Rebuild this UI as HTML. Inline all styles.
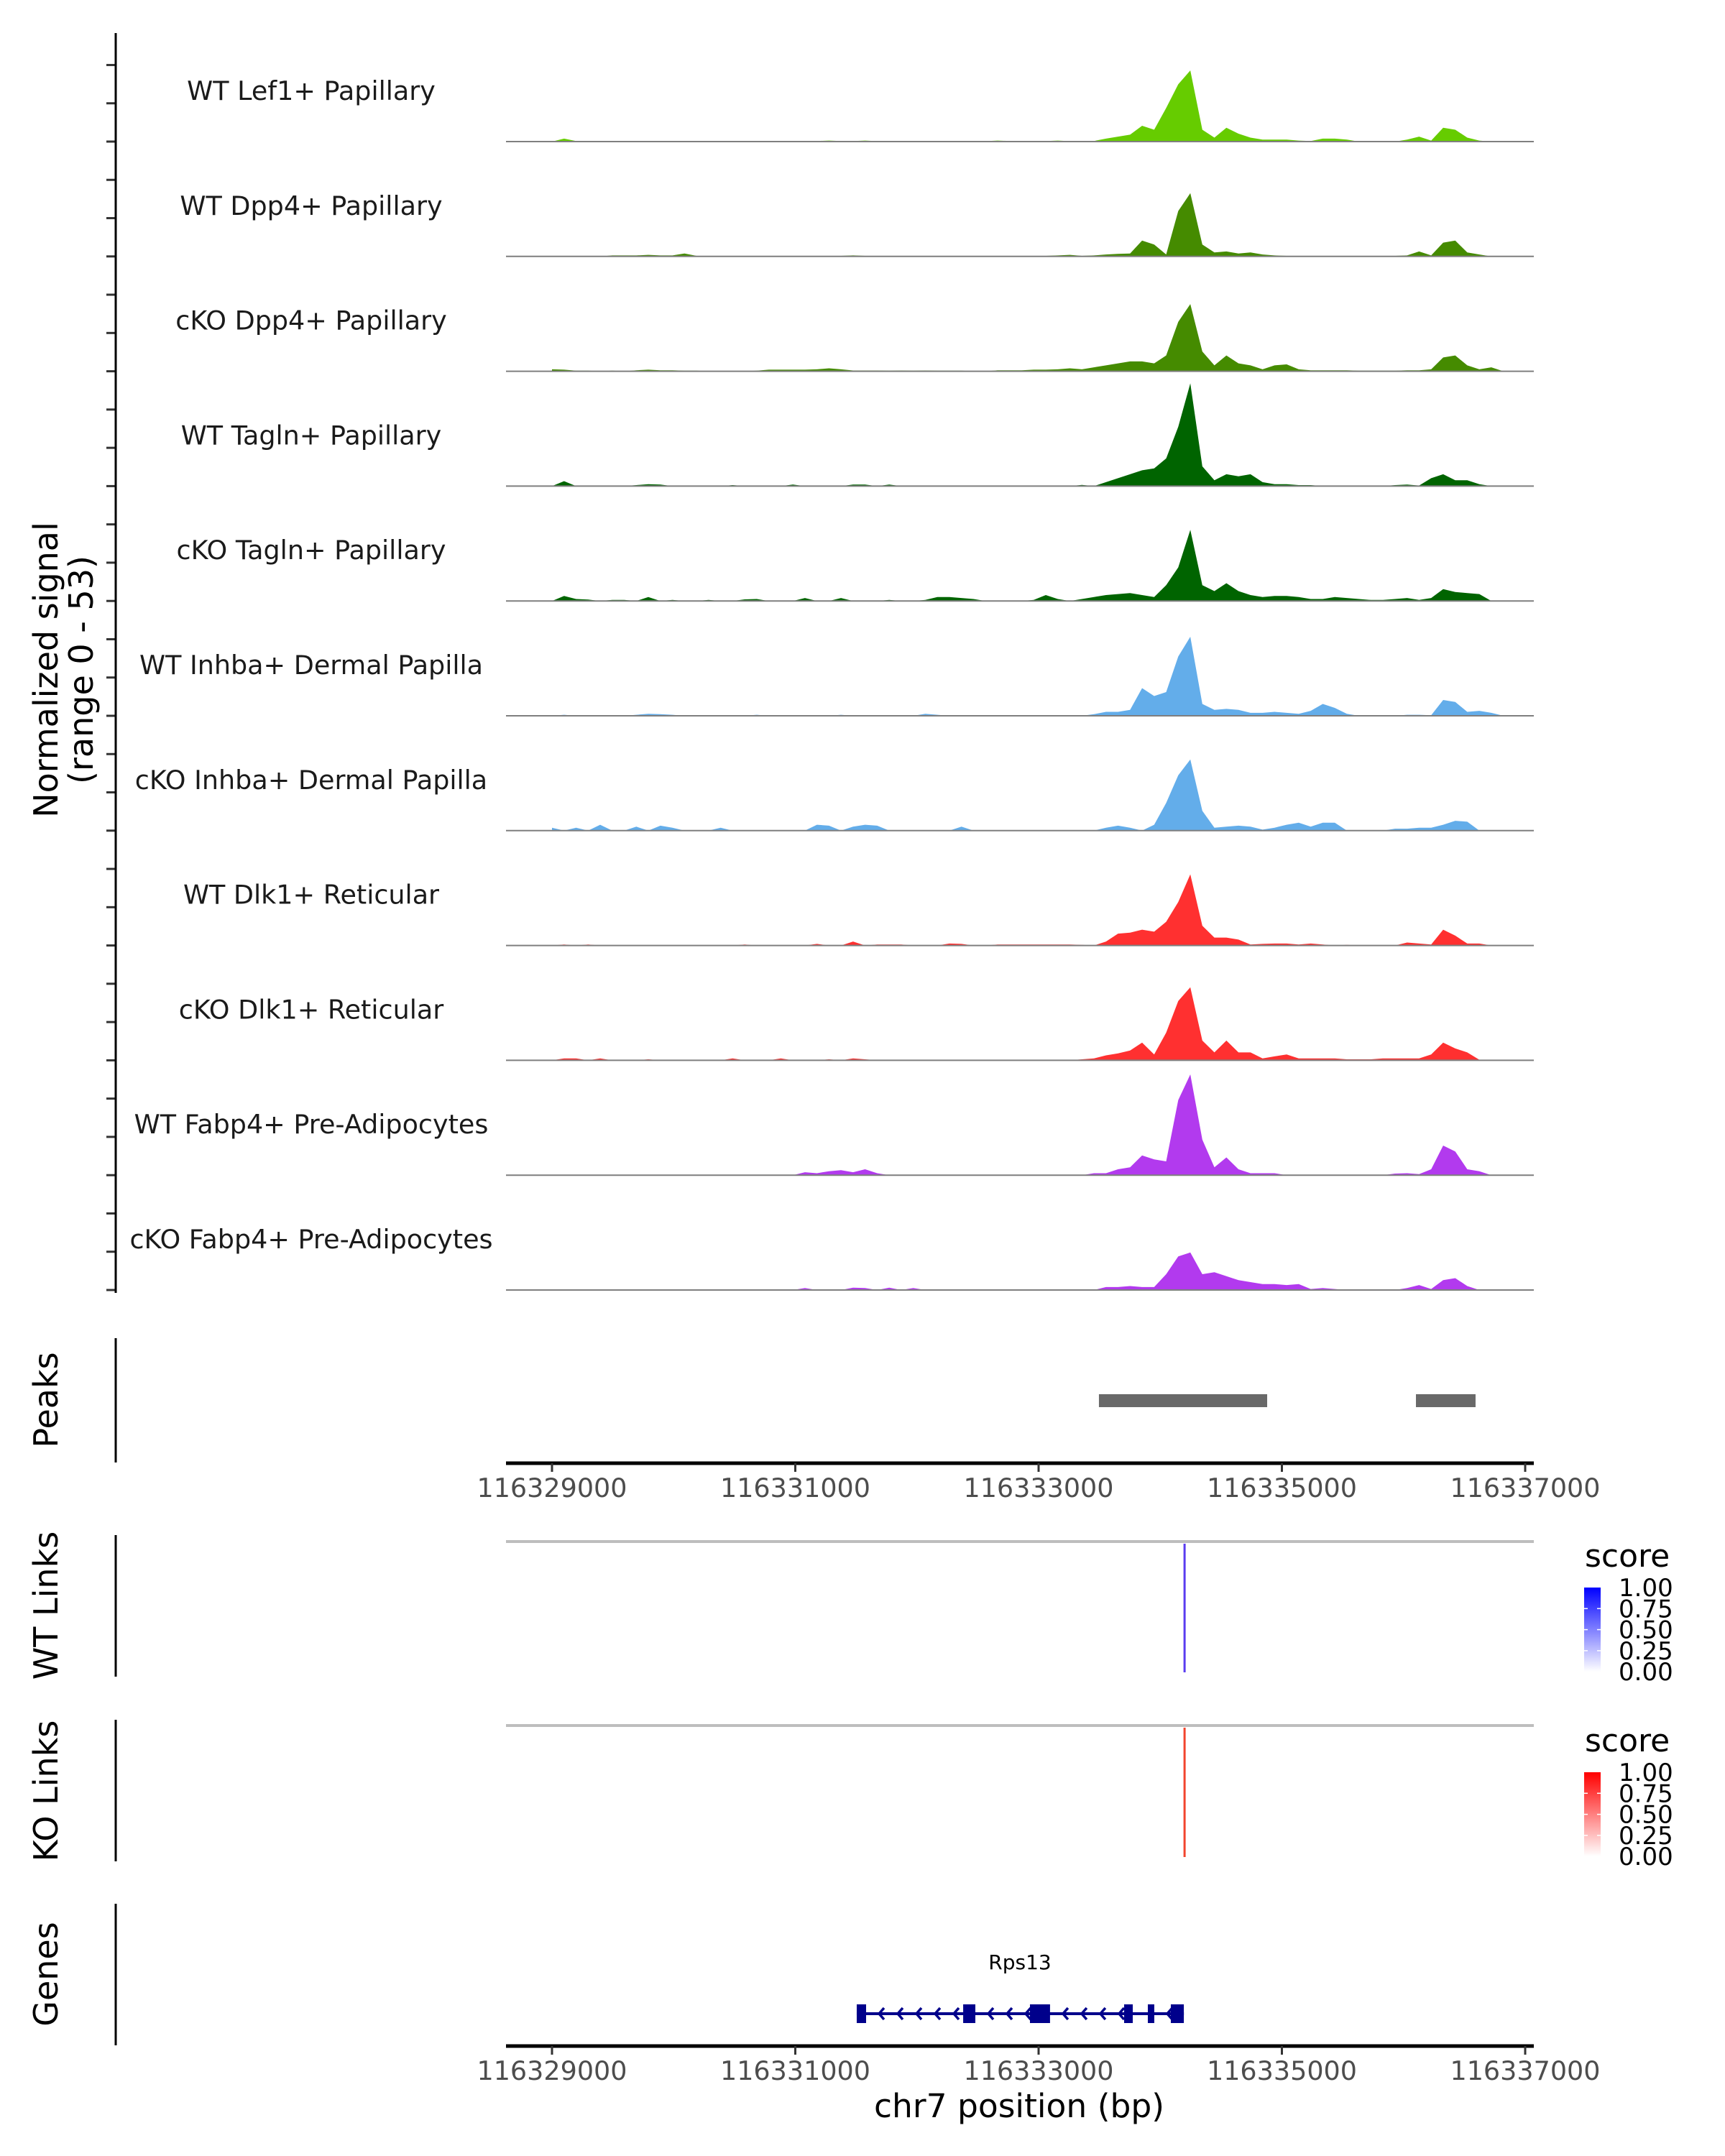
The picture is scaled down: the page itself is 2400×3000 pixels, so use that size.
<!DOCTYPE html>
<html><head><meta charset="utf-8"><style>
html,body{margin:0;padding:0;background:#fff;}
svg{display:block;font-family:"DejaVu Sans","Liberation Sans",sans-serif;}
</style></head><body>
<svg id="chart" width="2400" height="3000" viewBox="0 0 2400 3000" xmlns="http://www.w3.org/2000/svg">
<rect width="2400" height="3000" fill="#fff"/>
<g id="tracks"></g>
<g id="axes"></g>
</svg>
<script>
// ---- data ----
const binStart = 116329000;
const binSize = 99;
const trackNames = ["WT Lef1+ Papillary","WT Dpp4+ Papillary","cKO Dpp4+ Papillary","WT Tagln+ Papillary","cKO Tagln+ Papillary","WT Inhba+ Dermal Papilla","cKO Inhba+ Dermal Papilla","WT Dlk1+ Reticular","cKO Dlk1+ Reticular","WT Fabp4+ Pre-Adipocytes","cKO Fabp4+ Pre-Adipocytes"];
const trackColors = ["#66CC00","#458B00","#458B00","#006400","#006400","#63ADEA","#63ADEA","#FF3030","#FF3030","#B23AEE","#B23AEE"];
const sigLef1WT = [0,1.5,0.3,0.3,0.2,0.2,0.2,0.3,0.2,0.2, 0.3,0.2,0.2,0.2,0.3,0.2,0.2,0.2,0.3,0.2, 0.3,0.2,0.3,0.5,0.3,0.3,0.5,0.2,0.2,0.2, 0.2,0.3,0.2,0.2,0.2,0.3,0.2,0.5,0.3,0.2, 0.2,0.3,0.5,0.2,0.2,0.3,1.5,2.5,3.5,8, 6,17,29,36,6,2,7,4,2,1, 1,1,0.5,0.3,1.5,1.5,1,0,0,0, 0,1,2.5,0.5,7,6,2,0.5,0,0];
const sigDpp4WT = [0,0.3,0,0.3,0,0.5,0.5,0.5,0.8,0.5, 0.5,1.5,0.3,0,0.3,0,0,0,0,0, 0,0,0,0,0.3,0.5,0.3,0,0,0, 0,0,0,0,0,0,0,0,0,0, 0,0.3,0.5,0.8,0.3,0.5,1,1.3,1.5,8, 6,1,23,32,6,2,2.5,1.5,2,1, 0.5,0.3,0.3,0,0.3,0.3,0.3,0.3,0.3,0, 0.3,0.5,2.5,0.5,7,8,2,1,0,0];
const sigDpp4KO = [1,0.8,0.3,0.3,0,0.3,0,0.5,0.8,0.5, 0.5,0.3,0.3,0,0,0,0,0.3,0.8,0.8, 0.8,0.8,1,1.5,1,0.4,0.4,0.4,0.3,0.4, 0.3,0.4,0.3,0.3,0.3,0,0,0.5,0.5,0.5, 0.8,0.8,1,1.5,1,2,3,4,5,5, 4,8,25,34,10,3,8,4,3,1, 3,3.5,1,0.5,0.5,0.5,0.5,0.3,0.3,0.3, 0.3,0.5,0.5,1,7,8,3,1,2,0];
const sigTaglnWT = [0,2.5,0,0,0,0,0,0.5,1,0.8, 0,0,0,0,0,0.5,0,0,0,0, 0.8,0,0,0,0,0.8,0.8,0,0.8,0, 0,0,0,0,0,0,0,0,0,0, 0,0,0,0,0.6,0,2,4,6,8, 9,14,30,52,10,3,6,5,6,2, 1,1,0.5,0.5,0,0,0,0,0,0, 0.5,0.8,0.3,4,6,3,3,1,0,0];
const sigTaglnKO = [0,2.5,1,0.7,0,0.5,0.5,0,2,0, 0.5,0,0,0.5,0,0,0.8,1,0,0, 0,1.5,0,0,1.5,0,0,0,0.5,0, 0,0.5,2,2,1.5,1,0,0,0,0, 0.5,3,1,0,1,2,3,3.5,4,3, 2,8,17,36,8,5,9,5,3,2, 2.5,2.5,2,1,1,2,1.5,1,0.5,0.5, 1,1.5,0.5,1.5,6,4.5,4,3.5,0,0];
const sigInhbaWT = [0,0.5,0,0,0,0,0,0.5,1,0.8, 0.5,0,0,0,0,0,0,0.5,0,0, 0,0,0,0,0.5,0,0,0,0,0, 0,1,0.5,0,0,0,0,0,0,0, 0,0,0,0,0,0.8,2,2,3,14, 10,12,30,40,6,3,3.5,3,1.5,1.5, 2,1.5,1,2.5,6,4,1,0,0,0, 0,0.5,0.5,0.3,8,7,2,2.5,1.5,0];
const sigInhbaKO = [1.5,0,1.5,0,3,0,0,2,0,2.5, 1.5,0,0,0,1.5,0,0,0,0,0, 0,0,3,2.5,0,2,3,2.5,0,0, 0,0,0,0,2,0,0,0,0,0, 0,0,0,0,0,0,1.5,2.5,1.5,0, 3,14,28,36,10,1.5,2,2.5,2,0.5, 1.5,3,4,2,4,4,0,0,0,0, 1,1,1.5,1.5,3,5,4.5,0,0,0];
const sigDlk1WT = [0,0.5,0,0.5,0,0,0,0,0,0, 0,0,0,0,0,0,0.5,0,0,0, 0,0,0.8,0,0,2,0,0.5,0.5,0.5, 0,0,0,1,0.8,0,0,0.5,0.5,0.5, 0.5,0.5,0.5,0.5,0.3,0,2,6,6.5,8, 7,12,22,36,10,4,4,3,0.5,0.8, 1,1,0.5,1,0.5,0,0.3,0,0,0, 0,1.5,1,0.5,8,5,1,1,0,0];
const sigDlk1KO = [0,1,1,0,1,0,0,0,0.5,0, 0,0,0,0,0,1,0,0,0,1, 0,0,0,0.5,0,1,0.5,0,0,0, 0,0,0,0,0,0,0,0,0,0, 0,0,0,0,0.5,1,2.5,3.5,5,9, 3,14,30,37,10,4,10,4,4,1, 2,3,1,1,1,1,0.5,0.5,0.5,1, 1,1,1,3,9,6,4,0.3,0,0];
const sigFabp4WT = [0,0,0,0,0,0,0,0,0,0, 0,0,0,0,0,0,0,0,0,0, 0,1.5,1,2,2.5,1.5,3,1,0,0, 0,0,0,0,0,0,0,0,0,0, 0,0,0,0,0,1,1,3,4,10, 8,7,38,51,18,4,9,3,1,1, 1,0,0,0,0,0,0,0,0,0, 0.8,1,0.5,3,15,12,3,2,0,0];
const sigFabp4KO = [0,0,0,0,0,0,0,0,0,0, 0,0,0,0,0,0,0,0,0,0, 0,1,0,0,0,1.2,1,0,1.2,0, 1,0,0,0,0,0,0,0,0,0, 0,0,0,0,0,0,1.5,1.5,2,1.5, 1.5,8,17,19,8,9,7,5,4,3, 3,2.5,3,0.5,1,0.5,0,0,0,0, 0,1,2.5,0.5,5,6,2,0,0,0];
const peakStarts = [116333496, 116336102];
const peakEnds = [116334879, 116336592];
const xTicks = [116329000,116331000,116333000,116335000,116337000];
const linkWT = [116334200];
const linkKO = [116334200];
const legendTicks = ["1.00","0.75","0.50","0.25","0.00"];
const geneStart = 116331505, geneEnd = 116334194;
const exonStarts = [116331505,116332380,116332929,116333703,116333898,116334087];
const exonEnds = [116331582,116332480,116333094,116333774,116333951,116334194];
const signals = [sigLef1WT,sigDpp4WT,sigDpp4KO,sigTaglnWT,sigTaglnKO,sigInhbaWT,sigInhbaKO,sigDlk1WT,sigDlk1KO,sigFabp4WT,sigFabp4KO];

// ---- scales ----
const NS="http://www.w3.org/2000/svg";
const X0=704, X1=2134;
function xs(bp){return 768+(bp-116329000)*0.16925;}
const base0=197, trackGap=159.8, kY=2.75;
function ys(i,v){return base0+i*trackGap - v*kY;}
function el(tag,attrs,parent,txt){const e=document.createElementNS(NS,tag);for(const k in attrs)e.setAttribute(k,attrs[k]);if(txt!==undefined)e.textContent=txt;parent.appendChild(e);return e;}
const G=document.getElementById('tracks'), A=document.getElementById('axes');

signals.forEach((sig,i)=>{
  const b=base0+i*trackGap;
  let d='M'+xs(binStart).toFixed(1)+','+b;
  sig.forEach((v,j)=>{d+=' L'+xs(binStart+j*binSize).toFixed(1)+','+ys(i,v).toFixed(1);});
  d+=' L'+xs(binStart+(sig.length-1)*binSize).toFixed(1)+','+b+' Z';
  const p=el('path',{d:d,fill:trackColors[i]},G);
  
  
  const ln=el('line',{x1:X0,x2:X1,y1:b,y2:b,stroke:'#7f7f7f','stroke-width':2},G);
  
  
  const t=el('text',{x:433,y:b-58,'font-size':36.5,fill:'#1a1a1a','text-anchor':'middle'},G,trackNames[i]);
  
  
  for(let j=0;j<3;j++){
    const ty=b-j*53.27;
    const tk=el('line',{x1:148,x2:161,y1:ty,y2:ty,stroke:'#333','stroke-width':3},A);
    
    
  }
});

function vline(x,y1,y2,name){const l=el('line',{x1:x,x2:x,y1:y1,y2:y2,stroke:'#000','stroke-width':3},A);}
vline(161,46,1799,'signal-y-axis');
vline(161,1862,2035,'peaks-y-axis');
vline(161,2136,2333,'wt-links-y-axis');
vline(161,2393,2590,'ko-links-y-axis');
vline(161,2649,2846,'genes-y-axis');

function ytitle(txt,x,y,name){const t=el('text',{x:0,y:0,'font-size':46,fill:'#000','text-anchor':'middle',transform:'translate('+x+','+y+') rotate(-90)'},A,txt);}
ytitle('Normalized signal',80,932,'y-axis-title');
ytitle('(range 0 - 53)',129,932,'y-axis-subtitle');
ytitle('Peaks',80,1948,'peaks-title');
ytitle('WT Links',80,2234,'wt-links-title');
ytitle('KO Links',80,2492,'ko-links-title');
ytitle('Genes',80,2747,'genes-title');

// peaks
peakStarts.forEach((s,i)=>{
  const r=el('rect',{x:xs(s),y:1940,width:xs(peakEnds[i])-xs(s),height:18,fill:'#696969'},A);
  
  
});

function xaxis(y,ly,name){
  const l=el('line',{x1:X0,x2:X1,y1:y,y2:y,stroke:'#000','stroke-width':5},A);
  
  
  xTicks.forEach(v=>{
    const tk=el('line',{x1:xs(v),x2:xs(v),y1:y,y2:y+12,stroke:'#333','stroke-width':3},A);
    
    
    const t=el('text',{x:xs(v),y:ly,'font-size':36.5,fill:'#4d4d4d','text-anchor':'middle'},A,String(v));
    
    
  });
}
xaxis(2036,2083,'peaks-x-axis');
xaxis(2847,2894,'genes-x-axis');
const xt=el('text',{x:1418,y:2946,'font-size':45.5,fill:'#000','text-anchor':'middle'},A,'chr7 position (bp)');



// links
const defs=el('defs',{},A);
function grad(id,c){const g=el('linearGradient',{id:id,x1:0,y1:0,x2:0,y2:1},defs);el('stop',{offset:0,'stop-color':c},g);el('stop',{offset:1,'stop-color':'#fff'},g);}
grad('gb','#0000FF');grad('gr','#FF0000');
function linkPanel(yl,yb,arr,color,gid,sy,by,name){
  const gl=el('line',{x1:X0,x2:X1,y1:yl,y2:yl,stroke:'#bebebe','stroke-width':4},A);
  
  
  arr.forEach(bp=>{
    const l=el('line',{x1:xs(bp),x2:xs(bp),y1:yl+3,y2:yb,stroke:color,'stroke-width':3},A);
    
    
  });
  const st=el('text',{x:2205,y:sy,'font-size':44,fill:'#000'},A,'score');
  
  
  const cb=el('rect',{x:2204,y:by,width:23,height:117,fill:'url(#'+gid+')'},A);
  
  
  legendTicks.forEach((lab,k)=>{
    const yy=by+k*29.3;
    if(k>0&&k<4){el('line',{x1:2204,x2:2209,y1:yy,y2:yy,stroke:'#fff','stroke-width':1.5},A);el('line',{x1:2222,x2:2227,y1:yy,y2:yy,stroke:'#fff','stroke-width':1.5},A);}
    const t=el('text',{x:2252,y:yy+12,'font-size':34,fill:'#000'},A,lab);
    
    
  });
}
linkPanel(2145,2327,linkWT,'#5A3CF0','gb',2180,2209,'wt-links');
linkPanel(2401,2584,linkKO,'#F2452E','gr',2437,2466,'ko-links');

// gene
const gy=2802;
const gname=el('text',{x:1419,y:2740,'font-size':28,fill:'#000','text-anchor':'middle'},A,'Rps13');


const gl=el('line',{x1:xs(geneStart),x2:xs(geneEnd),y1:gy,y2:gy,stroke:'#00008B','stroke-width':4},A);


for(let k=0;k<exonEnds.length-1;k++){
  const a=xs(exonEnds[k]), b=xs(exonStarts[k+1]);
  for(let x=a+18;x<b-4;x+=26){
    el('path',{d:'M'+(x+7)+','+(gy-8)+' L'+x+','+gy+' L'+(x+7)+','+(gy+8),stroke:'#00008B','stroke-width':3.5,fill:'none'},A);
  }
}
exonStarts.forEach((s,i)=>{
  const r=el('rect',{x:xs(s),y:gy-13,width:Math.max(4,xs(exonEnds[i])-xs(s)),height:26,fill:'#00008B'},A);
  
  
});
</script>
</body></html>
